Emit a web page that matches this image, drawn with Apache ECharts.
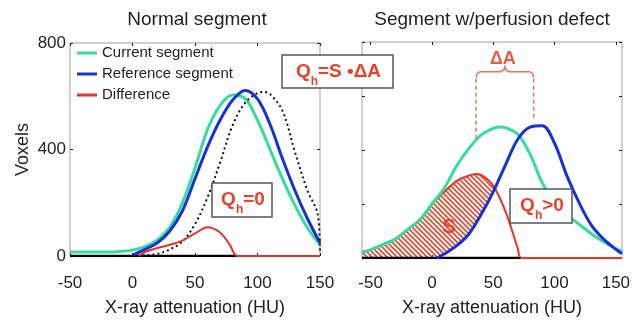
<!DOCTYPE html>
<html>
<head>
<meta charset="utf-8">
<script src="https://cdn.jsdelivr.net/npm/echarts@6/dist/echarts.min.js"></script>
<style>
html, body { margin: 0; padding: 0; background: #fff; }
#chart { width: 633px; height: 324px; }
</style>
</head>
<body>
<div id="chart"></div>
<script>
// left panel: normal segment
var normalCurrentX = [-50, -40, -30, -20, -10, 0, 10, 20, 30, 40, 50, 60, 70, 80, 90, 100, 110, 120, 130, 140, 150];
var normalCurrent = [15, 15, 15, 15, 17, 22, 35, 60, 110, 200, 330, 475, 565, 605, 592, 510, 400, 290, 190, 105, 42];
var normalRefX = [0, 10, 20, 30, 40, 50, 60, 70, 80, 90, 100, 110, 120, 130, 140, 150];
var normalRef = [3, 25, 50, 95, 170, 290, 410, 510, 585, 622, 590, 495, 365, 245, 140, 50];
var normalShiftX = [0, 10, 20, 30, 40, 50, 60, 70, 80, 90, 100, 105, 110, 120, 130, 140, 148, 150];
var normalShift = [0, 3, 8, 25, 55, 120, 220, 350, 490, 575, 612, 616, 608, 545, 390, 245, 160, 15];
var normalDiffX = [5, 10, 20, 30, 40, 50, 60, 70, 78, 84, 150];
var normalDiff = [0, 15, 30, 42, 58, 85, 108, 88, 41, 0, 0];
var normalZeroX = [-50, 84];

// right panel: segment with perfusion defect
var defectCurrentX = [-57, -50, -40, -30, -20, -10, 0, 10, 20, 30, 40, 50, 57, 60, 70, 80, 90, 100, 110, 120, 130, 140, 150, 155];
var defectCurrent = [22, 30, 50, 70, 105, 141, 200, 258, 340, 405, 455, 480, 485, 483, 458, 385, 278, 210, 160, 125, 90, 60, 35, 25];
var defectRefX = [4, 10, 20, 30, 40, 50, 60, 70, 80, 90, 100, 110, 120, 130, 140, 150, 155];
var defectRef = [0, 15, 45, 88, 160, 245, 345, 440, 485, 490, 425, 305, 205, 122, 70, 32, 16];
var defectDiffX = [-57, -50, -40, -30, -20, -10, 0, 10, 20, 30, 36, 40, 50, 60, 70, 73, 155];
var defectDiff = [22, 30, 50, 70, 105, 141, 200, 245, 285, 305, 311, 308, 268, 172, 36, 0, 0];
var defectZeroX = [-57, 73];

var xTicks = [-50, 0, 50, 100, 150];
var deltaA = [36, 83];

var FONT = '"Liberation Sans", Arial, sans-serif';
var GREEN = '#35dc9b';
var BLUE = '#1532d6';
var RED = '#e8322a';
var TXTRED = '#e8412c';

function pairs(xs, ys) {
    return xs.map(function (x, i) { return [x, ys[i]]; });
}

function hatch() {
    var c = document.createElement('canvas');
    c.width = 5;
    c.height = 5;
    var g = c.getContext('2d');
    g.strokeStyle = '#e4492f';
    g.lineWidth = 1.6;
    g.beginPath();
    g.moveTo(-1, -1); g.lineTo(6, 6);
    g.moveTo(-1, 4); g.lineTo(1, 6);
    g.moveTo(4, -1); g.lineTo(6, 1);
    g.stroke();
    return c;
}

function line(name, axis, data, color, width, z, type) {
    return {
        name: name,
        type: 'line',
        xAxisIndex: axis,
        yAxisIndex: axis,
        data: data,
        smooth: 0.35,
        symbol: 'none',
        silent: true,
        z: z,
        color: color,
        itemStyle: { color: color },
        lineStyle: { color: color, width: width, type: type || 'solid' }
    };
}

function xAx(grid, min, max, pos, showLabel) {
    var a = {
        type: 'value', gridIndex: grid, min: min, max: max, position: pos,
        splitLine: { show: false },
        axisLine: { show: false, onZero: false },
        axisTick: { show: true, inside: true, length: 3, lineStyle: { color: '#222' }, customValues: xTicks },
        axisLabel: { show: showLabel, customValues: xTicks, fontSize: 17, color: '#222', fontFamily: FONT, margin: grid == 0 ? 19 : 17 }
    };
    if (showLabel) {
        a.name = 'X-ray attenuation (HU)';
        a.nameLocation = 'middle';
        a.nameGap = grid == 0 ? 43 : 41;
        a.nameTextStyle = { fontSize: 18, color: '#222', fontFamily: FONT };
    }
    return a;
}

function yAx(grid, interval, pos, showLabel) {
    var a = {
        type: 'value', gridIndex: grid, min: 0, max: 800, interval: interval, position: pos,
        splitLine: { show: false },
        axisLine: { show: false, onZero: false },
        axisTick: { show: true, inside: true, length: 3, lineStyle: { color: '#222' } },
        axisLabel: { show: showLabel, fontSize: 17, color: '#222', fontFamily: FONT, margin: 4 }
    };
    if (showLabel) {
        a.name = 'Voxels';
        a.nameLocation = 'middle';
        a.nameGap = 38;
        a.nameTextStyle = { fontSize: 18, color: '#222', fontFamily: FONT };
    }
    return a;
}

var myChart = echarts.init(document.getElementById('chart'));

var option = {
    animation: false,
    backgroundColor: '#fff',
    grid: [
        { left: 70, top: 43, width: 250, height: 213, show: true, borderColor: '#a0a0a0', borderWidth: 1, outerBoundsMode: 'none' },
        { left: 362, top: 42, width: 260, height: 216, show: true, borderColor: '#a0a0a0', borderWidth: 1, outerBoundsMode: 'none' }
    ],
    xAxis: [
        xAx(0, -50, 150, 'bottom', true),
        xAx(1, -57, 155, 'bottom', true),
        xAx(0, -50, 150, 'top', false),
        xAx(1, -57, 155, 'top', false)
    ],
    yAxis: [
        yAx(0, 400, 'left', true),
        yAx(1, 200, 'left', false),
        yAx(0, 400, 'right', false),
        yAx(1, 200, 'right', false)
    ],
    legend: {
        data: ['Current segment', 'Reference segment', 'Difference'],
        orient: 'vertical',
        left: 77,
        top: 45,
        padding: 0,
        icon: 'rect',
        itemWidth: 20,
        itemHeight: 3,
        itemGap: 5,
        selectedMode: false,
        textStyle: { fontSize: 15, lineHeight: 16, color: '#222', fontFamily: FONT }
    },
    series: [
        line('zeroL', 0, pairs(normalZeroX, [0, 0]), '#000', 2.5, 3),
        line('Current segment', 0, pairs(normalCurrentX, normalCurrent), GREEN, 3, 3),
        line('Reference segment', 0, pairs(normalRefX, normalRef), BLUE, 3, 3),
        line('shifted', 0, pairs(normalShiftX, normalShift), '#111', 2, 3, [2, 3]),
        line('Difference', 0, pairs(normalDiffX, normalDiff), RED, 2, 4),

        // hatched S region: fill under difference, then blank out under reference
        Object.assign(line('hatch', 1, pairs(defectDiffX, defectDiff), RED, 0, 1), {
            areaStyle: { color: { image: hatch(), repeat: 'repeat' }, opacity: 1 }
        }),
        Object.assign(line('mask', 1, pairs(defectRefX, defectRef), '#fff', 0, 2), {
            areaStyle: { color: '#fff', opacity: 1 }
        }),
        line('zeroR', 1, pairs(defectZeroX, [0, 0]), '#000', 2.5, 3),
        line('Difference', 1, pairs(defectDiffX, defectDiff), RED, 2, 3),
        line('Current segment', 1, pairs(defectCurrentX, defectCurrent), GREEN, 3, 4),
        line('Reference segment', 1, pairs(defectRefX, defectRef), BLUE, 3, 4)
    ]
};
myChart.setOption(option);

// annotations
function qBox(x, y, w, h, rest) {
    return [{
        type: 'rect', z: 100,
        shape: { x: x, y: y, width: w, height: h },
        style: { fill: '#fff', stroke: '#555', lineWidth: 1.5 }
    }, {
        type: 'text', z: 101, x: x + w / 2 + 1, y: y + h / 2,
        style: {
            text: '{q|Q}{s|h}{q|' + rest + '}',
            align: 'center', verticalAlign: 'middle',
            rich: {
                q: { fontSize: 19, fontWeight: 'bold', fill: TXTRED, fontFamily: FONT, lineHeight: 32 },
                s: { fontSize: 12, fontWeight: 'bold', fill: TXTRED, fontFamily: FONT, lineHeight: 14, verticalAlign: 'bottom' }
            }
        }
    }];
}

var pL = myChart.convertToPixel({ gridIndex: 1 }, [deltaA[0], 440]);
var pR = myChart.convertToPixel({ gridIndex: 1 }, [deltaA[1], 520]);
var yB = myChart.convertToPixel({ gridIndex: 1 }, [0, 690])[1];
var xM = (pL[0] + pR[0]) / 2;
var bracketPts = [
    [pL[0], yB + 6], [pL[0] + 1, yB + 2], [pL[0] + 4, yB],
    [xM - 4, yB], [xM - 1, yB - 2], [xM, yB - 5], [xM + 1, yB - 2], [xM + 4, yB],
    [pR[0] - 4, yB], [pR[0] - 1, yB + 2], [pR[0], yB + 6]
];
var DASH = '#ef7160';

var graphics = [
    { type: 'text', x: 197, y: 20, style: { text: 'Normal segment', fontSize: 19, fontFamily: FONT, fill: '#222', align: 'center', verticalAlign: 'middle' } },
    { type: 'text', x: 492, y: 20, style: { text: 'Segment w/perfusion defect', fontSize: 19, fontFamily: FONT, fill: '#222', align: 'center', verticalAlign: 'middle' } },
    { type: 'polyline', z: 50, shape: { points: bracketPts }, style: { fill: null, stroke: DASH, lineWidth: 1.5 } },
    { type: 'line', z: 50, shape: { x1: pL[0], y1: yB + 7, x2: pL[0], y2: pL[1] }, style: { stroke: DASH, lineWidth: 1.5, lineDash: [4, 3] } },
    { type: 'line', z: 50, shape: { x1: pR[0], y1: yB + 7, x2: pR[0], y2: pR[1] }, style: { stroke: DASH, lineWidth: 1.5, lineDash: [4, 3] } },
    { type: 'text', z: 50, x: xM - 2, y: yB - 13, style: { text: 'ΔA', fontSize: 18, fontWeight: 'bold', fontFamily: FONT, fill: '#ec5a45', align: 'center', verticalAlign: 'middle' } },
    { type: 'text', z: 50, x: 449, y: 227, style: { text: 'S', fontSize: 20, fontWeight: 'bold', fontFamily: FONT, fill: TXTRED, align: 'center', verticalAlign: 'middle' } }
].concat(qBox(282, 55, 111, 33, '=S •ΔA'), qBox(212, 183, 60, 34, '=0'), qBox(510, 189, 62, 34, '>0'));

myChart.setOption({ graphic: graphics });
</script>
</body>
</html>
